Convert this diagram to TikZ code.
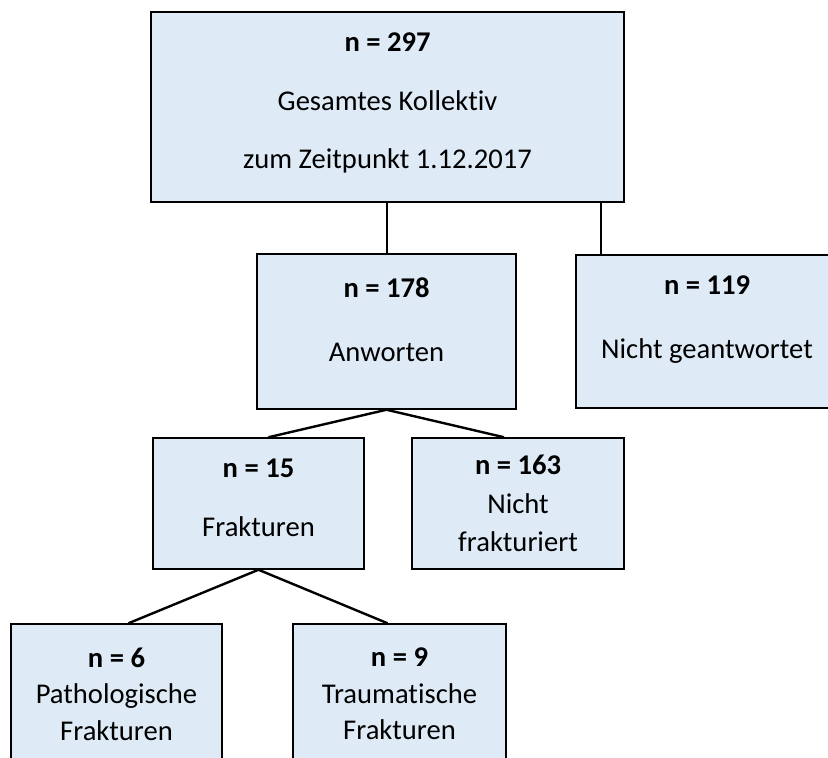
\documentclass[tikz,border=0pt]{standalone}
\usepackage{fontspec}
\setmainfont{Carlito}[Ligatures=CommonOff]
\usepackage{tikz}
\definecolor{boxblue}{RGB}{222,235,247}

\begin{document}
\begin{tikzpicture}[x=0.5pt, y=-0.5pt,
	box/.style={draw=black, fill=boxblue, line width=0.75pt, align=center, inner sep=0pt, font=\fontsize{14.3}{17.2}\selectfont},
	link/.style={black, line width=1pt}]
	\useasboundingbox (0,0) rectangle (828,758);
	\clip (0,0) rectangle (828,758);

	% first level
	\node[box, minimum width=236.5pt, minimum height=95pt, text depth=6pt] (all) at (387.5,107) {\textbf{n = 297}\\[12pt] Gesamtes Kollektiv\\[12pt] zum Zeitpunkt 1.12.2017};

	% second level
	\node[box, minimum width=129.5pt, minimum height=77.5pt, text depth=12pt] (resp) at (386.5,331.5) {\textbf{n = 178}\\[14.8pt] Anworten};
	\node[box, minimum width=131pt, minimum height=76.5pt, text depth=14.5pt] (nores) at (707,331.5) {\textbf{n = 119}\\[14.8pt] Nicht geantwortet};

	% third level
	\node[box, minimum width=105.5pt, minimum height=65.5pt, text depth=6pt] (frac) at (258.5,503.5) {\textbf{n = 15}\\[12.3pt] Frakturen};
	\node[box, minimum width=106pt, minimum height=65.5pt] (nofrac) at (518,503.5) {\textbf{n = 163}\\[2pt] Nicht\\[2pt] frakturiert};

	% fourth level
	\node[box, minimum width=105.5pt, minimum height=70pt] (path) at (116.5,694) {\textbf{n = 6}\\[1pt] Pathologische\\[1pt] Frakturen};
	\node[box, minimum width=106.5pt, minimum height=70pt] (trauma) at (399.5,694) {\textbf{n = 9}\\[1pt] Traumatische\\[1pt] Frakturen};

	\draw[link] (resp.north |- all.south) -- (resp.north);
	\draw[link] ([xshift=-12pt]all.south east) -- ([xshift=-12pt]all.south east |- nores.north);
	\draw[link, line width=1.2pt] (resp.south) -- ([xshift=5pt]frac.north);
	\draw[link, line width=1.2pt] (resp.south) -- ([xshift=-7pt]nofrac.north);
	\draw[link, line width=1.2pt] (frac.south) -- ([xshift=6pt]path.north);
	\draw[link, line width=1.2pt] (frac.south) -- ([xshift=-6pt]trauma.north);
\end{tikzpicture}
\end{document}
